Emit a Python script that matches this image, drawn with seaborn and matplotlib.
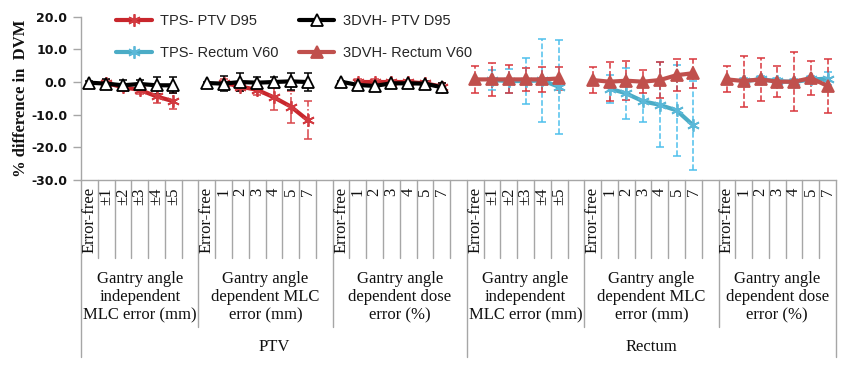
import numpy as np
import pandas as pd
import matplotlib
matplotlib.use("Agg")
import matplotlib.pyplot as plt
import seaborn as sns
from matplotlib.lines import Line2D
from matplotlib.transforms import blended_transform_factory

# ---------------- data ----------------
structures = ["PTV", "Rectum"]
group_titles = ["Gantry angle\nindependent\nMLC error (mm)",
                "Gantry angle\ndependent MLC\nerror (mm)",
                "Gantry angle\ndependent dose\nerror (%)"]
cats_ind = ["Error-free", "±1", "±2", "±3", "±4", "±5", ""]
cats_dep = ["Error-free", "1", "2", "3", "4", "5", "7", ""]
cats_dose = ["Error-free", "1", "2", "3", "4", "5", "7", ""]
cats_dose_last = ["Error-free", "1", "2", "3", "4", "5", "7"]

nan = np.nan
# TPS - PTV D95
tps_ptv_ind = [nan, -0.3, -1.6, -2.4, -4.4, -5.9]
tps_ptv_ind_sd = [nan, 0.8, 1.0, 1.4, 2.0, 2.5]
tps_ptv_dep = [nan, -0.2, -1.4, -2.4, -4.7, -7.5, -11.6]
tps_ptv_dep_sd = [nan, 1.0, 1.5, 1.5, 4.0, 4.9, 5.9]
tps_ptv_dose = [nan, 0.0, 0.0, 0.0, 0.0, -0.4, -1.4]
tps_ptv_dose_sd = [nan, 0.8, 0.8, 0.5, 0.5, 0.5, 1.0]
# 3DVH - PTV D95
dvh_ptv_ind = [-0.2, -0.5, -1.0, -0.6, -1.0, -1.0]
dvh_ptv_ind_sd = [0.4, 1.5, 1.5, 1.2, 2.6, 2.5]
dvh_ptv_dep = [-0.3, -0.5, 0.0, -0.2, 0.0, 0.2, 0.0]
dvh_ptv_dep_sd = [0.4, 2.3, 2.9, 1.7, 1.5, 2.5, 2.9]
dvh_ptv_dose = [0.1, -0.9, -1.2, -0.4, -0.4, -0.5, -1.6]
dvh_ptv_dose_sd = [0.3, 1.2, 1.0, 0.8, 0.8, 0.7, 1.2]
# TPS - Rectum V60
tps_rec_ind = [nan, 0.6, 0.3, 0.3, 0.5, -1.5]
tps_rec_ind_sd = [nan, 3.0, 3.8, 7.0, 12.8, 14.5]
tps_rec_dep = [nan, -2.0, -3.5, -5.9, -7.0, -8.7, -13.3]
tps_rec_dep_sd = [nan, 4.3, 7.8, 6.3, 13.0, 13.8, 13.7]
tps_rec_dose = [nan, 0.3, 0.8, 0.3, 0.0, 0.8, 1.0]
tps_rec_dose_sd = [nan, 1.0, 1.0, 1.0, 1.0, 1.0, 2.0]
# 3DVH - Rectum V60
dvh_rec_ind = [0.8, 0.8, 0.8, 0.8, 0.8, 1.1]
dvh_rec_ind_sd = [4.1, 5.0, 4.3, 3.5, 3.8, 3.5]
dvh_rec_dep = [0.6, 0.1, 0.4, 0.1, 0.6, 2.1, 2.7]
dvh_rec_dep_sd = [4.0, 6.0, 6.0, 3.5, 5.5, 5.0, 4.5]
dvh_rec_dose = [0.8, 0.3, 0.8, 0.1, 0.1, 1.2, -1.2]
dvh_rec_dose_sd = [4.0, 7.8, 6.7, 4.7, 9.0, 5.2, 8.4]

legend_labels = ["TPS- PTV D95", "TPS- Rectum V60", "3DVH- PTV D95", "3DVH- Rectum V60"]

# ---------------- layout helpers ----------------
group_cats = [cats_ind, cats_dep, cats_dose, cats_ind, cats_dep, cats_dose_last]
group_start = np.concatenate([[0], np.cumsum([len(c) for c in group_cats])])
n_slots = int(group_start[-1])

series = {
    "TPS- PTV D95": (0, [tps_ptv_ind, tps_ptv_dep, tps_ptv_dose],
                     [tps_ptv_ind_sd, tps_ptv_dep_sd, tps_ptv_dose_sd]),
    "3DVH- PTV D95": (0, [dvh_ptv_ind, dvh_ptv_dep, dvh_ptv_dose],
                      [dvh_ptv_ind_sd, dvh_ptv_dep_sd, dvh_ptv_dose_sd]),
    "TPS- Rectum V60": (3, [tps_rec_ind, tps_rec_dep, tps_rec_dose],
                        [tps_rec_ind_sd, tps_rec_dep_sd, tps_rec_dose_sd]),
    "3DVH- Rectum V60": (3, [dvh_rec_ind, dvh_rec_dep, dvh_rec_dose],
                         [dvh_rec_ind_sd, dvh_rec_dep_sd, dvh_rec_dose_sd]),
}
rows = []
for name, (g0, means, sds) in series.items():
    for j, (m, s) in enumerate(zip(means, sds)):
        g = g0 + j
        for k, (v, e) in enumerate(zip(m, s)):
            if not np.isnan(v):
                rows.append(dict(series=name, grp=g, pos=group_start[g] + k + 0.5,
                                 val=v, err=e))
df = pd.DataFrame(rows)

styles = {
    "TPS- PTV D95": dict(color="#C8262C", marker=(6, 2, 0), ms=9, mfc="#C8262C",
                         mec="#D23A40", ecolor="#D9454A", els="-."),
    "3DVH- PTV D95": dict(color="#000000", marker="^", ms=8, mfc="white",
                          mec="#000000", ecolor="#000000", els="-"),
    "TPS- Rectum V60": dict(color="#4BACC6", marker=(6, 2, 0), ms=9, mfc="#4BACC6",
                            mec="#5BB8D8", ecolor="#4EC0EC", els="--"),
    "3DVH- Rectum V60": dict(color="#C0504D", marker="^", ms=9, mfc="#C0504D",
                             mec="#C0504D", ecolor="#D8363C", els="--"),
}

# ---------------- figure ----------------
sns.set_theme(style="white")
plt.rcParams["font.family"] = ["DejaVu Sans"]
W, H = 846, 370
fig = plt.figure(figsize=(W / 100, H / 100), dpi=100)
top_px, bot_px, left_px, right_px = 16.7, 180, 81, 836
ax = fig.add_axes([left_px / W, 1 - bot_px / H, (right_px - left_px) / W,
                   (bot_px - top_px) / H])

draw_order = ["TPS- PTV D95", "3DVH- PTV D95", "TPS- Rectum V60", "3DVH- Rectum V60"]
for name in draw_order:
    st = styles[name]
    sub = df[df.series == name]
    eb = ax.errorbar(sub.pos, sub.val, yerr=sub.err, fmt="none", ecolor=st["ecolor"],
                     elinewidth=1.1, capsize=3, capthick=1.1, zorder=2)
    eb[2][0].set_linestyle(st["els"])
for name in draw_order:
    st = styles[name]
    sub = df[df.series == name]
    sns.lineplot(data=sub, x="pos", y="val", units="grp", estimator=None, ax=ax,
                 color=st["color"], lw=3, marker=st["marker"], markersize=st["ms"],
                 markerfacecolor=st["mfc"], markeredgecolor=st["mec"],
                 markeredgewidth=1.3, legend=False, zorder=3)

ax.set_xlim(0, n_slots)
ax.set_ylim(-30, 20)
ax.set_yticks(np.arange(-30, 21, 10))
ax.set_yticklabels([f"{v:.1f}" for v in np.arange(-30, 21, 10)], fontsize=9,
                   color="#111111", fontweight="bold")
ax.set_xticks([])
ax.set_xlabel("")
ax.set_ylabel("")
for s in ["top", "right"]:
    ax.spines[s].set_visible(False)
for s in ["left", "bottom"]:
    ax.spines[s].set_color("#A6A6A6")
    ax.spines[s].set_linewidth(1.0)
ax.tick_params(axis="y", direction="out", length=6, width=1.0, color="#A6A6A6",
               pad=4, left=True)

# multi-level category axis
trans = blended_transform_factory(ax.transData, ax.transAxes)
axh = bot_px - top_px
d_inner = -78 / axh
d_group = -147 / axh
d_struct = -177 / axh
struct_bounds = {0, int(group_start[3]), n_slots}
group_bounds = set(int(b) for b in group_start)
for i in range(0, n_slots + 1):
    d = d_inner
    if i in group_bounds:
        d = d_group
    if i in struct_bounds:
        d = d_struct
    ax.add_line(Line2D([i, i], [0, d], transform=trans, color="#A6A6A6", lw=1.0,
                       clip_on=False))

serif = ["Liberation Serif", "DejaVu Serif"]
for g, cats in enumerate(group_cats):
    for k, c in enumerate(cats):
        if c:
            ax.text(group_start[g] + k + 0.5, -0.045, c, transform=trans, rotation=90,
                    ha="center", va="top", family=serif, fontsize=12, color="#111111")
    ax.text((group_start[g] + group_start[g + 1]) / 2, -0.718, group_titles[g % 3],
            transform=trans, ha="center", va="center", family=serif, fontsize=12,
            linespacing=1.17, color="#111111")
for si, sname in enumerate(structures):
    a, b = group_start[3 * si], group_start[3 * si + 3]
    ax.text((a + b) / 2, -1.02, sname, transform=trans, ha="center", va="center",
            family=serif, fontsize=12, color="#111111")

fig.text(21 / W, 1 - 98 / H, "% difference in  DVM", rotation=90, ha="center",
         va="center", family=serif, fontsize=12, fontweight="bold", color="#111111")

# legend
handles = []
for name in legend_labels:
    st = styles[name]
    handles.append(Line2D([], [], color=st["color"], lw=3, marker=st["marker"],
                          markersize=st["ms"], markerfacecolor=st["mfc"],
                          markeredgecolor=st["mec"], markeredgewidth=1.3))
fig.legend(handles, legend_labels, ncol=2, loc="upper left",
           bbox_to_anchor=(116 / W, 1 - 14 / H), frameon=False,
           prop={"family": "Liberation Sans", "size": 10.5},
           handlelength=2.45, handletextpad=0.6, columnspacing=1.35,
           labelspacing=1.25, borderpad=0, borderaxespad=0)

fig.savefig("out.png", dpi=100)
